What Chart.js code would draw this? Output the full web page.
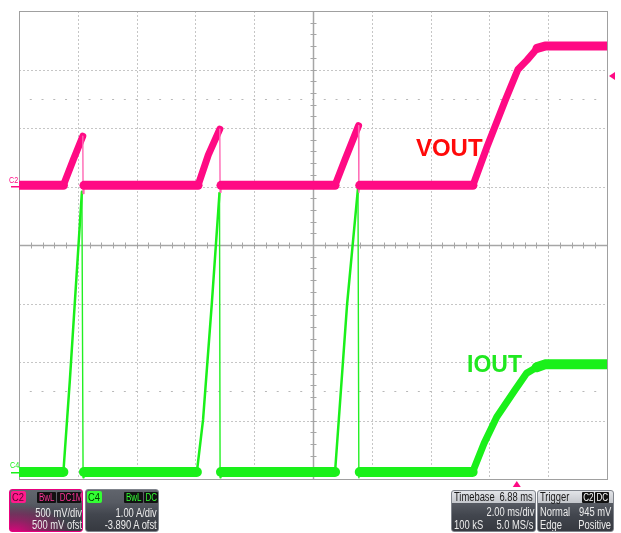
<!DOCTYPE html>
<html><head><meta charset="utf-8">
<script src="https://cdn.jsdelivr.net/npm/chart.js@4.4.0/dist/chart.umd.min.js"></script>
<style>
html,body{margin:0;padding:0;background:#fff;}
#wrap{position:relative;width:621px;height:533px;overflow:hidden;background:#fff;}
#c{position:absolute;left:0;top:0;}
.box{position:absolute;box-sizing:border-box;border-radius:3px;overflow:hidden;
 font-family:"Liberation Sans",Arial,sans-serif;font-size:12px;line-height:12px;color:#ececec;
 background:linear-gradient(#60646c 0%,#575b63 30%,#42464e 60%,#363940 100%);}
.box div{position:absolute;white-space:nowrap;}
.l{transform:scaleX(0.78);transform-origin:left center;}
.r{transform:scaleX(0.78);transform-origin:right center;}
.lbl{left:1px;top:1px;width:15px;height:12px;text-align:center;border-radius:2px;font-size:11px;}
.lbl span{display:inline-block;transform:scaleX(0.85);}
.badge{top:2px;height:11px;line-height:11px;background:#111;text-align:center;border-radius:1px;font-size:10px;}
.badge span{display:inline-block;transform:scaleX(0.8);}
.hdr{left:0;top:0;right:0;height:12px;background:linear-gradient(#e2e4e8,#c4c7cc);color:#1a1a1a;}
.gl{position:absolute;font-family:"Liberation Sans",Arial,sans-serif;font-size:9px;line-height:9px;transform:scaleX(0.8);transform-origin:left center;}
</style></head>
<body><div id="wrap">
<canvas id="c" width="621" height="533"></canvas>

<div class="box" style="left:9px;top:489px;width:74px;height:43px;border:1.5px solid #e8007e;
 background:radial-gradient(ellipse 80% 70% at 5% 105%,rgba(235,0,130,0.95) 0%,rgba(235,0,130,0.45) 45%,rgba(235,0,130,0) 100%),linear-gradient(#62666e 0%,#585c64 32%,#42464e 60%,#383b42 100%);">
 <div class="lbl" style="background:#ff1a8c;color:#5a0030;"><span>C2</span></div>
 <div class="badge" style="left:27px;width:19px;color:#ff3399;"><span>BwL</span></div>
 <div class="badge" style="left:47px;width:24px;color:#ff3399;"><span>DC1M</span></div>
 <div class="r" style="right:0px;top:17px;">500 mV/div</div>
 <div class="r" style="right:0px;top:29px;">500 mV ofst</div>
</div>

<div class="box" style="left:85px;top:489px;width:74px;height:43px;border:1px solid #80848c;">
 <div class="lbl" style="background:#33ff33;color:#004000;"><span>C4</span></div>
 <div class="badge" style="left:38px;width:19px;color:#33ff33;"><span>BwL</span></div>
 <div class="badge" style="left:58px;width:14px;color:#33ff33;"><span>DC</span></div>
 <div class="r" style="right:1px;top:17px;">1.00 A/div</div>
 <div class="r" style="right:1px;top:29px;">-3.890 A ofst</div>
</div>

<div class="box" style="left:451px;top:490px;width:85px;height:42px;border:1px solid #80848c;">
 <div class="hdr"></div>
 <div class="l" style="left:2px;top:0px;color:#1a1a1a;">Timebase</div>
 <div class="r" style="right:2px;top:0px;color:#1a1a1a;">6.88 ms</div>
 <div class="r" style="right:1px;top:15px;">2.00 ms/div</div>
 <div class="l" style="left:2px;top:28px;">100 kS</div>
 <div class="r" style="right:2px;top:28px;">5.0 MS/s</div>
</div>

<div class="box" style="left:537px;top:490px;width:77px;height:42px;border:1px solid #80848c;">
 <div class="hdr"></div>
 <div class="l" style="left:2px;top:0px;color:#1a1a1a;">Trigger</div>
 <div class="badge" style="left:44px;width:12px;color:#fff;top:1px;"><span>C2</span></div>
 <div class="badge" style="left:57px;width:14px;color:#fff;top:1px;"><span>DC</span></div>
 <div class="l" style="left:2px;top:15px;">Normal</div>
 <div class="r" style="right:2px;top:15px;">945 mV</div>
 <div class="l" style="left:2px;top:28px;">Edge</div>
 <div class="r" style="right:2px;top:28px;">Positive</div>
</div>
<div id="g2" class="gl">C2</div>
<div id="g4" class="gl">C4</div>
</div>

<script>
// ---- time axis (ms) and channel scales ----
const X_MIN = -16.88, X_MAX = 3.12, MS_PER_DIV = 2.00;
const V_PER_DIV = 0.5, V_OFFSET = 0.5;      // C2: 500 mV/div, 500 mV ofst
const A_PER_DIV = 1.0, A_OFFSET = -3.890;   // C4: 1.00 A/div, -3.890 A ofst
const TRIGGER_LEVEL = 0.945, TRIGGER_TIME = 0;

// ---- VOUT (C2), volts ----
const timeVout = [-16.88, -15.37, -15.03, -14.71, -14.70, -14.67,
                  -10.79, -10.44, -10.05, -10.04, -10.01,
                  -6.13, -5.79, -5.33, -5.32, -5.29,
                  -1.44, -0.96, -0.32, 0.09, 0.40, 0.74, 1.01, 3.12];
const vout     = [0.01, 0.01, 0.23, 0.43, -0.06, 0.01,
                  0.01, 0.27, 0.49, -0.05, 0.01,
                  0.01, 0.23, 0.52, -0.05, 0.01,
                  0.01, 0.34, 0.75, 1.00, 1.08, 1.18, 1.20, 1.20];

// ---- IOUT (C4), amperes ----
const timeIout = [-16.88, -15.37, -15.15, -14.74, -14.70, -14.67,
                  -10.83, -10.62, -10.32, -10.06, -10.04, -10.01,
                  -6.13, -5.72, -5.35, -5.32, -5.29,
                  -1.45, -1.06, -0.63, -0.01, 0.39, 0.73, 1.01, 3.12];
const iout     = [0.01, 0.01, 1.58, 4.80, -0.09, 0.01,
                  0.01, 0.90, 2.90, 4.78, -0.09, 0.01,
                  0.01, 2.88, 4.86, -0.09, 0.01,
                  0.01, 0.50, 0.95, 1.41, 1.70, 1.80, 1.85, 1.85];

// ---- annotations ----
const labelNames = ['VOUT', 'IOUT'];
const labelTimes = [-3.38, -1.64];
const labelValues = [0.26, 1.72];

const toXY = (ts, vs) => ts.map((t, i) => ({x: t, y: vs[i]}));

function segWidth(flat, steep) {
  return c => {
    const dx = Math.abs(c.p1.x - c.p0.x), dy = Math.abs(c.p1.y - c.p0.y);
    if (dx < 1.5) return 1.4;
    const s = dy / dx;
    if (s < 0.5) return flat;
    if (s > 8) return steep;
    return 7;
  };
}
function segColor(main, pale) {
  return c => (Math.abs(c.p1.x - c.p0.x) < 1.5 ? pale : main);
}

const PINK = '#ff0a84', GREEN = '#1af01a';

const scopePlugin = {
  id: 'scope',
  beforeDatasetsDraw(chart) {
    const {ctx, chartArea: a, scales: {x, yV}} = chart;
    const px = v => Math.round(x.getPixelForValue(v)) + 0.5;
    const py = v => Math.round(yV.getPixelForValue(v)) + 0.5;
    const vMin = yV.min;
    ctx.save();
    ctx.strokeStyle = '#c6c6c6'; ctx.lineWidth = 1; ctx.setLineDash([2, 2]);
    for (let k = 1; k < 10; k++) {
      if (k === 5) continue;
      const X = px(X_MIN + k * MS_PER_DIV);
      ctx.beginPath(); ctx.moveTo(X, a.top); ctx.lineTo(X, a.bottom); ctx.stroke();
    }
    for (let k = 1; k < 8; k++) {
      if (k === 4) continue;
      const Y = py(vMin + k * V_PER_DIV);
      ctx.beginPath(); ctx.moveTo(a.left, Y); ctx.lineTo(a.right, Y); ctx.stroke();
    }
    ctx.setLineDash([]);
    ctx.strokeStyle = '#b8b8b8';
    for (const d of [1.5, 6.5]) {
      const Y = py(vMin + d * V_PER_DIV);
      for (let k = 1; k < 50; k++) {
        const X = x.getPixelForValue(X_MIN + k * MS_PER_DIV / 5);
        ctx.beginPath(); ctx.moveTo(X - 1, Y); ctx.lineTo(X + 1, Y); ctx.stroke();
      }
    }
    const cx = px(X_MIN + 5 * MS_PER_DIV), cy = py(vMin + 4 * V_PER_DIV);
    ctx.strokeStyle = '#a6a6a6'; ctx.lineWidth = 1.5;
    ctx.beginPath(); ctx.moveTo(a.left, cy); ctx.lineTo(a.right, cy); ctx.stroke();
    ctx.beginPath(); ctx.moveTo(cx, a.top); ctx.lineTo(cx, a.bottom); ctx.stroke();
    ctx.lineWidth = 1;
    for (let k = 1; k < 50; k++) {
      const X = Math.round(x.getPixelForValue(X_MIN + k * MS_PER_DIV / 5)) + 0.5;
      ctx.beginPath(); ctx.moveTo(X, cy - 3); ctx.lineTo(X, cy + 3); ctx.stroke();
    }
    for (let k = 1; k < 40; k++) {
      const Y = Math.round(yV.getPixelForValue(vMin + k * V_PER_DIV / 5)) + 0.5;
      ctx.beginPath(); ctx.moveTo(cx - 3, Y); ctx.lineTo(cx + 3, Y); ctx.stroke();
    }
    ctx.strokeStyle = '#a0a0a0'; ctx.lineWidth = 1;
    ctx.strokeRect(Math.round(a.left) + 0.5, Math.round(a.top) + 0.5,
                   Math.round(a.right - a.left), Math.round(a.bottom - a.top));
    ctx.restore();
  },
  afterDraw(chart) {
    const {ctx, chartArea: a, scales: {x, yV, yI}} = chart;
    ctx.save();
    const g2 = yV.getPixelForValue(0), g4 = yI.getPixelForValue(0);
    ctx.fillStyle = PINK; ctx.fillRect(11, Math.round(g2) - 1, 8, 1.5);
    ctx.fillStyle = GREEN; ctx.fillRect(11, Math.round(g4) - 1, 8, 1.5);
    const e2 = document.getElementById('g2'), e4 = document.getElementById('g4');
    e2.style.left = '9px'; e2.style.top = (g2 - 11) + 'px'; e2.style.color = PINK;
    e4.style.left = '10px'; e4.style.top = (g4 - 12) + 'px'; e4.style.color = GREEN;
    const ty = yV.getPixelForValue(TRIGGER_LEVEL), tx = x.getPixelForValue(TRIGGER_TIME) + 1.5;
    ctx.fillStyle = PINK;
    ctx.beginPath(); ctx.moveTo(a.right + 2, ty); ctx.lineTo(a.right + 8, ty - 4); ctx.lineTo(a.right + 8, ty + 4); ctx.closePath(); ctx.fill();
    ctx.beginPath(); ctx.moveTo(tx, a.bottom + 2); ctx.lineTo(tx - 4, a.bottom + 8); ctx.lineTo(tx + 4, a.bottom + 8); ctx.closePath(); ctx.fill();
    ctx.textBaseline = 'alphabetic'; ctx.textAlign = 'left';
    ctx.font = 'bold 24px "Liberation Sans", Arial, sans-serif';
    ctx.fillStyle = '#ff0a0a';
    ctx.fillText(labelNames[0], x.getPixelForValue(labelTimes[0]), yV.getPixelForValue(labelValues[0]));
    ctx.font = 'bold 23px "Liberation Sans", Arial, sans-serif';
    ctx.fillStyle = '#20e820';
    ctx.fillText(labelNames[1], x.getPixelForValue(labelTimes[1]), yI.getPixelForValue(labelValues[1]));
    ctx.restore();
  }
};

new Chart(document.getElementById('c'), {
  type: 'line',
  data: {
    datasets: [
      {label: 'VOUT', data: toXY(timeVout, vout), yAxisID: 'yV', borderColor: PINK,
       borderWidth: 9, borderCapStyle: 'round', borderJoinStyle: 'round',
       segment: {borderWidth: segWidth(9, 2.5), borderColor: segColor(PINK, '#ff66b3')}},
      {label: 'IOUT', data: toXY(timeIout, iout), yAxisID: 'yI', borderColor: GREEN,
       borderWidth: 10, borderCapStyle: 'round', borderJoinStyle: 'round',
       segment: {borderWidth: segWidth(10, 2.5), borderColor: segColor(GREEN, '#22f022')}}
    ]
  },
  options: {
    responsive: false, animation: false, devicePixelRatio: 1,
    layout: {padding: {left: 19, right: 14, top: 11, bottom: 54}},
    plugins: {legend: {display: false}, tooltip: {enabled: false}},
    elements: {point: {radius: 0}, line: {tension: 0}},
    scales: {
      x: {type: 'linear', min: X_MIN, max: X_MAX, display: false},
      yV: {type: 'linear', min: -V_OFFSET - 4 * V_PER_DIV, max: -V_OFFSET + 4 * V_PER_DIV, display: false},
      yI: {type: 'linear', min: -A_OFFSET - 4 * A_PER_DIV, max: -A_OFFSET + 4 * A_PER_DIV, display: false}
    }
  },
  plugins: [scopePlugin]
});
</script>
</body></html>
